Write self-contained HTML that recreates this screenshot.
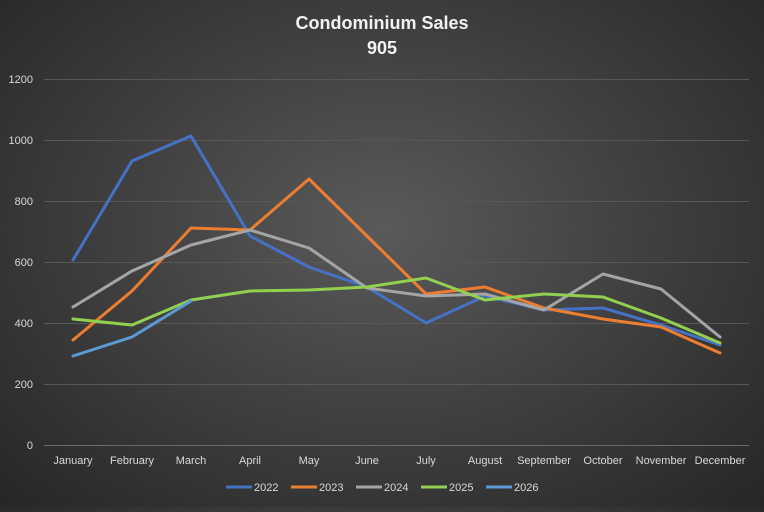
<!DOCTYPE html>
<html><head><meta charset="utf-8"><style>
html,body{margin:0;padding:0;}
body{width:764px;height:507px;overflow:hidden;background:radial-gradient(ellipse at 50% 45%,#5a5a5a 0%,#3f3f3f 50%,#262626 100%);font-family:"Liberation Sans",sans-serif;}
</style></head><body>
<svg width="764" height="507" xmlns="http://www.w3.org/2000/svg" font-family="Liberation Sans, sans-serif">
<text x="382" y="29" fill="#f2f2f2" font-size="18" font-weight="bold" text-anchor="middle">Condominium  Sales</text>
<text x="382" y="54" fill="#f2f2f2" font-size="18" font-weight="bold" text-anchor="middle">905</text>
<g stroke="#575757" stroke-width="1">
<line x1="44" x2="749" y1="79.5" y2="79.5"/>
<line x1="44" x2="749" y1="140.5" y2="140.5"/>
<line x1="44" x2="749" y1="201.5" y2="201.5"/>
<line x1="44" x2="749" y1="262.5" y2="262.5"/>
<line x1="44" x2="749" y1="323.5" y2="323.5"/>
<line x1="44" x2="749" y1="384.5" y2="384.5"/>
</g>
<line x1="44" x2="749" y1="445.5" y2="445.5" stroke="#6a6a6a"/>
<g fill="#d9d9d9" font-size="11" text-anchor="end">
<text x="33" y="83">1200</text><text x="33" y="144">1000</text><text x="33" y="205">800</text>
<text x="33" y="266">600</text><text x="33" y="327">400</text><text x="33" y="388">200</text><text x="33" y="449">0</text>
</g>
<g fill="#d9d9d9" font-size="11" text-anchor="middle">
<text x="73" y="464">January</text><text x="132" y="464">February</text><text x="191" y="464">March</text>
<text x="250" y="464">April</text><text x="309" y="464">May</text><text x="367" y="464">June</text>
<text x="426" y="464">July</text><text x="485" y="464">August</text><text x="544" y="464">September</text>
<text x="603" y="464">October</text><text x="661" y="464">November</text><text x="720" y="464">December</text>
</g>
<g fill="none" stroke-width="3" stroke-linejoin="round" stroke-linecap="round">
<polyline stroke="#4472C4" points="73,260 132,161 191,136 250,236 309,267 367,287 426,323 485,296 544,310 603,308 661,325 720,345"/>
<polyline stroke="#ED7D31" points="73,340 132,291 191,228 250,230 309,179 367,236 426,294 485,287 544,308 603,319 661,327 720,353"/>
<polyline stroke="#A5A5A5" points="73,307 132,271 191,245 250,230 309,248 367,288 426,296 485,294 544,310 603,274 661,289 720,337"/>
<polyline stroke="#92D050" points="73,319 132,325 191,300 250,291 309,290 367,287 426,278 485,300 544,294 603,297 661,318 720,343"/>
<polyline stroke="#5B9BD5" points="73,356 132,337 191,301"/>
</g>
<g font-size="11" fill="#d9d9d9" stroke-width="3">
<line x1="226" x2="252" y1="487" y2="487" stroke="#4472C4"/><text x="254" y="491">2022</text>
<line x1="291" x2="317" y1="487" y2="487" stroke="#ED7D31"/><text x="319" y="491">2023</text>
<line x1="356" x2="382" y1="487" y2="487" stroke="#A5A5A5"/><text x="384" y="491">2024</text>
<line x1="421" x2="447" y1="487" y2="487" stroke="#92D050"/><text x="449" y="491">2025</text>
<line x1="486" x2="512" y1="487" y2="487" stroke="#5B9BD5"/><text x="514" y="491">2026</text>
</g>
</svg>
</body></html>
